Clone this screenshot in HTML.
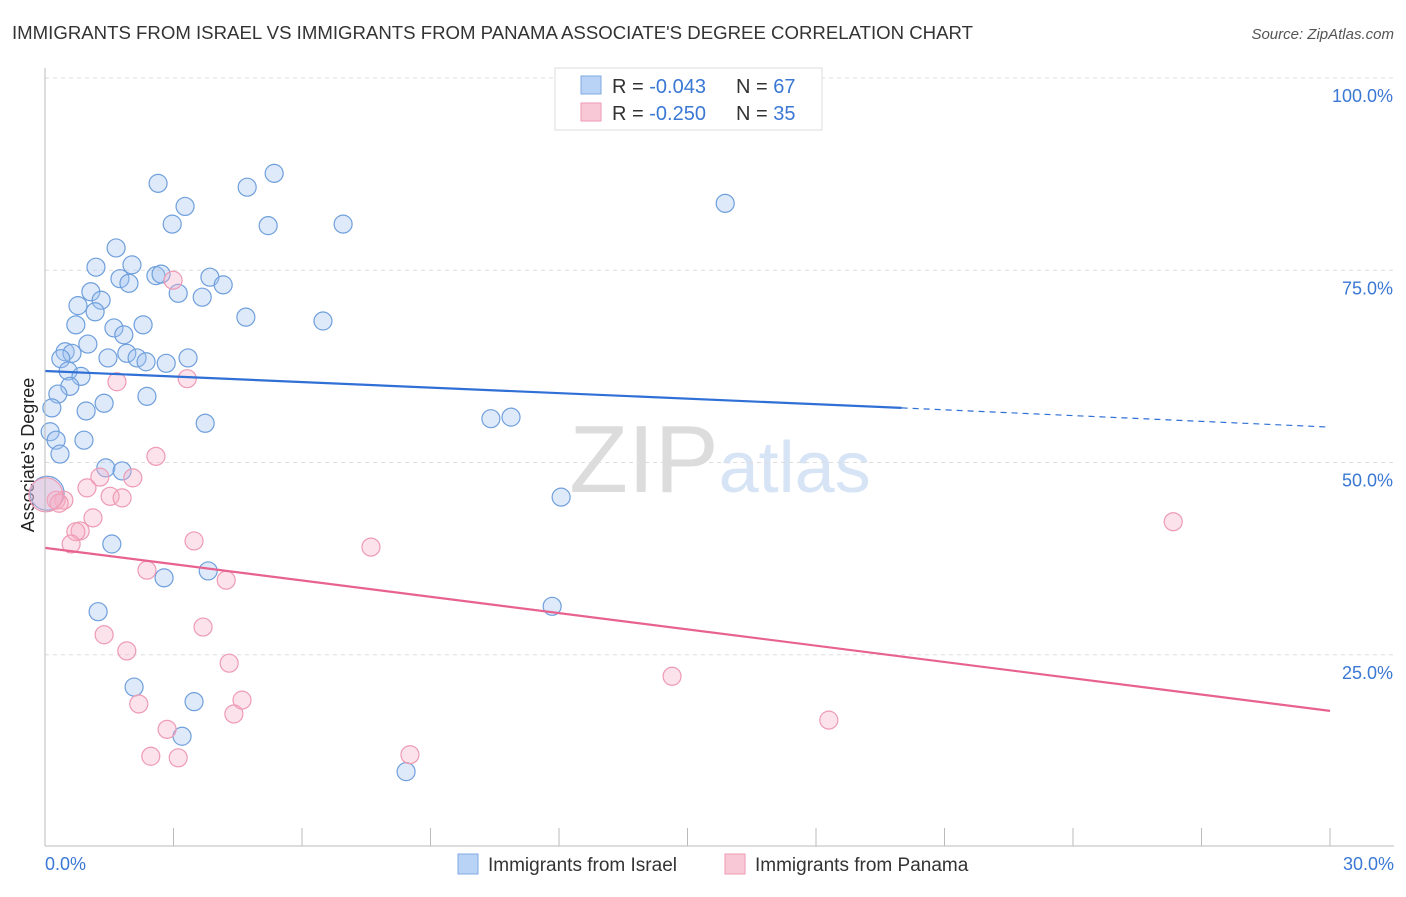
<!DOCTYPE html>
<html><head><meta charset="utf-8"><style>
body{margin:0;background:#fff;font-family:"Liberation Sans",sans-serif;}
svg text{font-family:"Liberation Sans",sans-serif;}
</style></head><body>
<svg id="chart" width="1406" height="892">
<text x="12" y="39" font-size="18" fill="#333" textLength="961" lengthAdjust="spacingAndGlyphs">IMMIGRANTS FROM ISRAEL VS IMMIGRANTS FROM PANAMA ASSOCIATE'S DEGREE CORRELATION CHART</text>
<text x="1394" y="39" font-size="15" fill="#555" font-style="italic" text-anchor="end">Source: ZipAtlas.com</text>
<text x="34" y="455" font-size="18" fill="#222" text-anchor="middle" transform="rotate(-90 34 455)">Associate's Degree</text>
<text x="720" y="492" font-size="96" fill="#e4e4e4" text-anchor="middle" font-family="Liberation Serif"><tspan fill="#dcdcdc">ZIP</tspan><tspan fill="#d6e4f5" font-family="Liberation Sans" font-size="72">atlas</tspan></text>
<g id="grid"></g><g id="marks"></g><g id="lines"></g>
<line x1="45" y1="68" x2="45" y2="846" stroke="#bbb"/>
<line x1="45" y1="846" x2="1394" y2="846" stroke="#bbb"/>
<text x="45" y="870" font-size="18" fill="#3a78d4">0.0%</text>
<text x="1394" y="870" font-size="18" fill="#3a78d4" text-anchor="end">30.0%</text>
<g>
<rect x="555" y="68" width="267" height="62" fill="#fff" stroke="#ddd"/>
<rect x="581" y="76" width="20" height="18" fill="#b8d3f5" stroke="#7fa9e0"/>
<text x="612" y="93" font-size="20" fill="#333">R = <tspan fill="#3a78d4">-0.043</tspan></text>
<text x="736" y="93" font-size="20" fill="#333">N = <tspan fill="#3a78d4">67</tspan></text>
<rect x="581" y="103" width="20" height="18" fill="#f8c8d6" stroke="#ec9ab2"/>
<text x="612" y="120" font-size="20" fill="#333">R = <tspan fill="#3a78d4">-0.250</tspan></text>
<text x="736" y="120" font-size="20" fill="#333">N = <tspan fill="#3a78d4">35</tspan></text>
</g>
<g>
<rect x="458" y="854" width="20" height="20" fill="#b8d3f5" stroke="#7fa9e0"/>
<text x="488" y="871" font-size="19" fill="#333">Immigrants from Israel</text>
<rect x="725" y="854" width="20" height="20" fill="#f8c8d6" stroke="#ec9ab2"/>
<text x="755" y="871" font-size="19" fill="#333">Immigrants from Panama</text>
</g>
</svg>
<script>
const yTicks=[25,50,75,100];
const yTickLabels=["25.0%","50.0%","75.0%","100.0%"];
const israelX=[2.64,5.35,4.72,3.27,2.97,5.21,6.96,15.88,1.66,1.19,2.03,2.59,2.71,3.85,1.75,1.96,4.16,1.07,3.11,3.67,1.31,0.77,1.17,4.69,6.49,0.72,2.29,1.61,1.84,1.00,0.47,0.63,1.91,1.47,2.15,2.36,2.83,3.34,0.37,0.54,0.84,0.58,0.30,2.38,1.38,0.96,0.16,10.41,10.88,3.74,0.12,0.26,0.91,0.35,1.42,1.80,12.05,1.56,3.81,2.78,1.24,11.84,2.08,3.48,3.20,8.43,0.05];
const israelY=[86.3,87.6,85.8,83.3,81.0,80.8,81.0,83.7,77.9,75.4,75.7,74.3,74.5,74.1,73.9,73.3,73.1,72.2,72.0,71.5,71.1,70.4,69.6,68.9,68.4,67.9,67.9,67.5,66.6,65.4,64.4,64.2,64.2,63.6,63.6,63.1,62.9,63.6,63.5,61.9,61.2,59.9,58.9,58.6,57.7,56.7,57.1,55.7,55.9,55.1,54.0,52.9,52.9,51.1,49.3,48.9,45.5,39.4,35.9,35.0,30.6,31.3,20.8,18.9,14.4,9.8,46.0];
const panamaX=[2.99,1.68,3.32,2.59,1.28,2.05,0.98,1.52,1.80,0.44,0.26,0.33,0.02,1.12,0.82,0.72,0.61,3.48,7.61,2.38,4.23,3.69,1.38,1.91,4.30,14.64,4.60,2.19,4.41,2.85,18.30,2.47,3.11,8.52,26.34];
const panamaY=[73.7,60.5,60.9,50.8,48.1,48.0,46.7,45.6,45.4,45.1,45.1,44.7,45.8,42.8,41.1,41.0,39.4,39.8,39.0,36.0,34.7,28.6,27.6,25.5,23.9,22.2,19.1,18.6,17.3,15.3,16.5,11.8,11.6,12.0,42.3];
const israelTrend=[61.9,57.1,54.6]; // at x=0,20,30
const panamaTrend=[38.9,17.7]; // at x=0,30
const NS="http://www.w3.org/2000/svg";
const sx=v=>45+v/30*1285, sy=v=>847-v*7.69;
function mk(t,a,p){const e=document.createElementNS(NS,t);for(const k in a)e.setAttribute(k,a[k]);p.appendChild(e);return e;}
const grid=document.getElementById('grid'),marks=document.getElementById('marks'),lines=document.getElementById('lines');
yTicks.forEach((t,i)=>{
 const l=mk('line',{x1:45,x2:1394,y1:sy(t),y2:sy(t),stroke:'#ddd','stroke-dasharray':'4,4'},grid);
 
 
 const tx=mk('text',{x:1393,y:sy(t)+24,'font-size':18,fill:'#3a78d4','text-anchor':'end'},grid);
 tx.textContent=yTickLabels[i];
 
 
});
for(let i=1;i<=10;i++){
 const l=mk('line',{x1:sx(i*3),x2:sx(i*3),y1:828,y2:846,stroke:'#bbb'},grid);
 
 
}
israelX.forEach((x,i)=>{
 const big=i===israelX.length-1;
 const c=mk('circle',{cx:sx(x),cy:sy(israelY[i]),r:big?17:9,fill:'rgba(160,196,240,0.35)',stroke:'#6f9fdc','stroke-width':1.2},marks);
 
 
});
panamaX.forEach((x,i)=>{
 const big=i===12;
 const c=mk('circle',{cx:sx(x),cy:sy(panamaY[i]),r:big?17:9,fill:'rgba(245,175,198,0.35)',stroke:'#ee9ab4','stroke-width':1.2},marks);
 
 
});
let t=mk('line',{x1:sx(0),y1:sy(israelTrend[0]),x2:sx(20),y2:sy(israelTrend[1]),stroke:'#2f6fd6','stroke-width':2.2},lines);


t=mk('line',{x1:sx(20),y1:sy(israelTrend[1]),x2:sx(30),y2:sy(israelTrend[2]),stroke:'#2f6fd6','stroke-width':1.2,'stroke-dasharray':'6,5'},lines);


t=mk('line',{x1:sx(0),y1:sy(panamaTrend[0]),x2:sx(30),y2:sy(panamaTrend[1]),stroke:'#e8628f','stroke-width':2.2},lines);


</script>
</body></html>
